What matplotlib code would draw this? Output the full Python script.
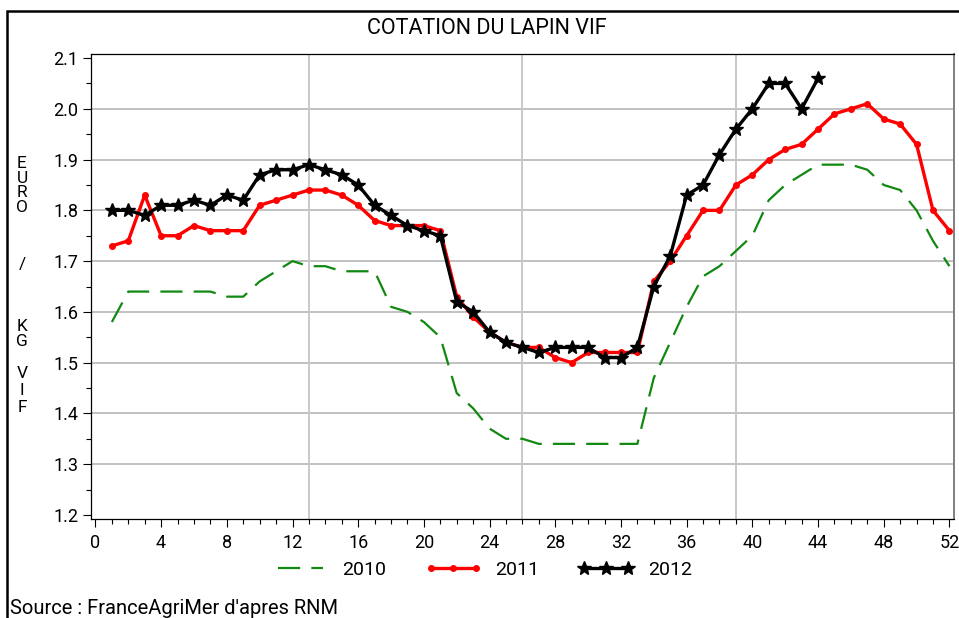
import matplotlib
matplotlib.use("Agg")
import matplotlib.pyplot as plt
from matplotlib import font_manager as fm
from matplotlib.patches import Rectangle

# ---------------- data ----------------
weeks_2010 = list(range(1, 53))
prix_2010 = [1.58, 1.64, 1.64, 1.64, 1.64, 1.64, 1.64, 1.63, 1.63, 1.66,
             1.68, 1.70, 1.69, 1.69, 1.68, 1.68, 1.68, 1.61, 1.60, 1.58,
             1.55, 1.44, 1.41, 1.37, 1.35, 1.35, 1.34, 1.34, 1.34, 1.34,
             1.34, 1.34, 1.34, 1.47, 1.54, 1.61, 1.67, 1.69, 1.72, 1.75,
             1.82, 1.85, 1.87, 1.89, 1.89, 1.89, 1.88, 1.85, 1.84, 1.80,
             1.74, 1.69]

weeks_2011 = list(range(1, 53))
prix_2011 = [1.73, 1.74, 1.83, 1.75, 1.75, 1.77, 1.76, 1.76, 1.76, 1.81,
             1.82, 1.83, 1.84, 1.84, 1.83, 1.81, 1.78, 1.77, 1.77, 1.77,
             1.76, 1.63, 1.59, 1.56, 1.54, 1.53, 1.53, 1.51, 1.50, 1.52,
             1.52, 1.52, 1.52, 1.66, 1.70, 1.75, 1.80, 1.80, 1.85, 1.87,
             1.90, 1.92, 1.93, 1.96, 1.99, 2.00, 2.01, 1.98, 1.97, 1.93,
             1.80, 1.76]

weeks_2012 = list(range(1, 45))
prix_2012 = [1.80, 1.80, 1.79, 1.81, 1.81, 1.82, 1.81, 1.83, 1.82, 1.87,
             1.88, 1.88, 1.89, 1.88, 1.87, 1.85, 1.81, 1.79, 1.77, 1.76,
             1.75, 1.62, 1.60, 1.56, 1.54, 1.53, 1.52, 1.53, 1.53, 1.53,
             1.51, 1.51, 1.53, 1.65, 1.71, 1.83, 1.85, 1.91, 1.96, 2.00,
             2.05, 2.05, 2.00, 2.06]

series_labels = ["2010", "2011", "2012"]
x_ticks = list(range(0, 53, 4))
y_ticks = [1.2, 1.3, 1.4, 1.5, 1.6, 1.7, 1.8, 1.9, 2.0, 2.1]
x_grid = [13, 26, 39]
title = "COTATION DU LAPIN VIF"
source = "Source : FranceAgriMer d'apres RNM"
ylabel_groups = ["E\nU\nR\nO", "/", "K\nG", "V\nI\nF"]

# ---------------- font ----------------
def pick_font(cands):
    for c in cands:
        try:
            fm.findfont(fm.FontProperties(family=c), fallback_to_default=False)
            return c
        except Exception:
            continue
    return "DejaVu Sans"

FONT = pick_font(["Roboto", "Liberation Sans", "DejaVu Sans"])
plt.rcParams["font.family"] = [FONT, "DejaVu Sans"]

W, H = 959, 618
fig = plt.figure(figsize=(W / 100, H / 100), dpi=100)
fig.patch.set_facecolor("white")

L, R, T, B = 91, 954, 54, 519
ax = fig.add_axes([L / W, 1 - B / H, (R - L) / W, (B - T) / H])

# grid
for yv in y_ticks[1:-1]:
    ax.axhline(yv, color="#b0b0b0", lw=1.1, zorder=0)
for xv in x_grid:
    ax.axvline(xv, color="#c8c8c8", lw=1.4, zorder=0)

# series
l10, = ax.plot(weeks_2010, prix_2010, color="#118811", lw=1.6, zorder=2,
               label=series_labels[0])
l10.set_dashes([10, 5])
l11, = ax.plot(weeks_2011, prix_2011, color="#ff0000", lw=2.4, marker="o",
               markersize=4, zorder=3, label=series_labels[1])
l12, = ax.plot(weeks_2012, prix_2012, color="#000000", lw=2.4, marker="*",
               markersize=10, zorder=4, label=series_labels[2])

ax.set_xlim(-0.27, 52.28)
ax.set_ylim(1.192, 2.108)
ax.set_xticks(x_ticks)
ax.set_xticks(range(0, 53), minor=True)
ax.set_yticks(y_ticks)
ax.set_yticks([1.25 + 0.1 * i for i in range(9)], minor=True)
ax.set_yticklabels([f"{v:.1f}" for v in y_ticks])
ax.tick_params(axis="both", which="major", direction="out", length=6, width=0.8,
               labelsize=13, colors="black")
ax.tick_params(axis="both", which="minor", direction="out", length=3.5, width=0.8)
ax.tick_params(axis="x", pad=5)
ax.tick_params(axis="y", pad=3)
for s in ax.spines.values():
    s.set_linewidth(0.9)
    s.set_color("black")
ax.spines["right"].set_color("#808080")
ax.spines["right"].set_linewidth(1.4)

# title
fig.text(487 / W, 1 - 28 / H, title, ha="center", va="center", fontsize=15.5)

# y label stacked letters (groups)
group_centers = [185.5, 264, 334, 390.5]
group_spacing = [0.95, 1.0, 0.95, 1.2]
for txt, yc, ls in zip(ylabel_groups, group_centers, group_spacing):
    fig.text(22 / W, 1 - yc / H, txt, ha="center", va="center", fontsize=12.5,
             linespacing=ls, multialignment="center")

# legend
leg = fig.legend(handles=[l10, l11, l12], labels=series_labels, loc="center",
                 bbox_to_anchor=(482 / W, 1 - 570 / H), ncol=3, frameon=False,
                 prop={"size": 14}, handlelength=2.9,
                 numpoints=3, columnspacing=2.0, handletextpad=0.7)

# source
fig.text(10 / W, 1 - 608 / H, source, ha="left", va="center", fontsize=14.5)

# figure border
fig.add_artist(Rectangle((7 / W, -0.05), 1.0, 1 - 11 / H + 0.05,
                         transform=fig.transFigure, fill=False, lw=1.8,
                         edgecolor="black", clip_on=False))

fig.savefig("out.png", dpi=100)
